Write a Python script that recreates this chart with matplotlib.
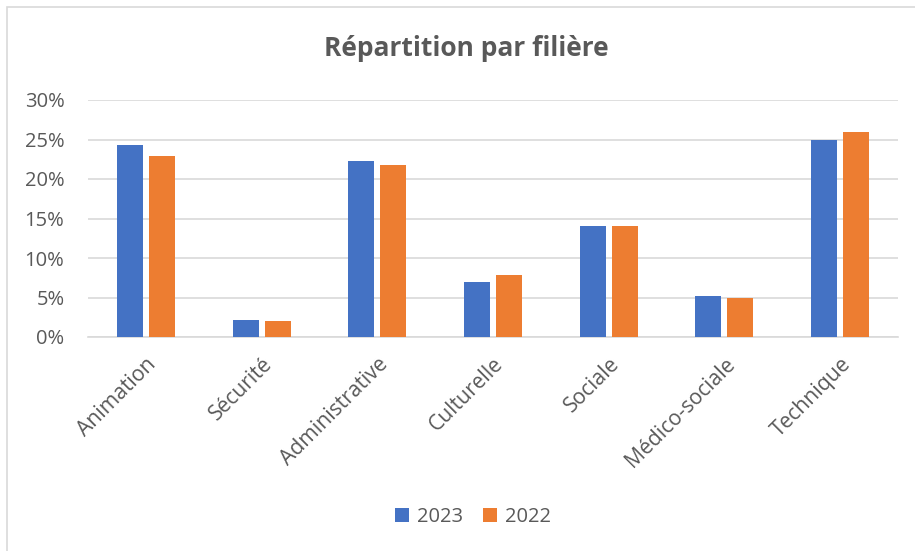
import numpy as np
import matplotlib.pyplot as plt
from matplotlib.patches import Rectangle
from matplotlib.ticker import PercentFormatter

# data (share of staff per branch)
filieres = ['Animation', 'Sécurité', 'Administrative', 'Culturelle',
            'Sociale', 'Médico-sociale', 'Technique']
part_2023 = [0.243, 0.022, 0.223, 0.069, 0.140, 0.052, 0.249]
part_2022 = [0.229, 0.020, 0.218, 0.079, 0.140, 0.050, 0.259]
annees = ['2023', '2022']

plt.rcParams['font.family'] = ['Open Sans', 'DejaVu Sans']
gris = '#595959'

fig = plt.figure(figsize=(9.15, 5.51), dpi=100)
ax = fig.add_axes([88/915, 1 - 337/551, 810/915, 237/551])

x = np.arange(len(filieres))
w = 0.225
ax.bar(x - 0.138, part_2023, w, color='#4472C4', label=annees[0], zorder=3)
ax.bar(x + 0.138, part_2022, w, color='#ED7D31', label=annees[1], zorder=3)

ax.set_xlim(-0.5, len(filieres) - 0.5)
ax.set_ylim(0, 0.30)
ax.set_yticks(np.arange(0, 0.31, 0.05))
ax.yaxis.set_major_formatter(PercentFormatter(1.0, decimals=0))
ax.grid(axis='y', color='#D9D9D9', linewidth=1.2, zorder=0)
ax.set_axisbelow(True)

for s in ['top', 'right', 'left']:
    ax.spines[s].set_visible(False)
ax.spines['bottom'].set_color('#D9D9D9')
ax.spines['bottom'].set_linewidth(1.2)

ax.set_xticks(x)
ax.set_xticklabels(filieres, rotation=45, ha='right', rotation_mode='anchor')
ax.tick_params(axis='x', length=0, pad=12, labelsize=15.2, labelcolor=gris)
ax.tick_params(axis='y', length=0, pad=17, labelsize=14.5, labelcolor=gris)

fig.text(466/915, 1 - 48/551, 'Répartition par filière', ha='center', va='center',
         fontsize=19, fontweight='bold', color=gris)

leg = fig.legend(loc='center', bbox_to_anchor=(473/915, 1 - 517/551), ncol=2,
                 frameon=False, fontsize=14.5, handlelength=0.7, handleheight=0.7,
                 handletextpad=0.4, columnspacing=1.0)
for t in leg.get_texts():
    t.set_color(gris)

# chart border (only left and top edges show in the crop)
fig.patches.append(Rectangle((7/915, -0.05), 1.1, 1 - 7/551 + 0.05,
                             transform=fig.transFigure, fill=False,
                             edgecolor='#D9D9D9', linewidth=1.2))

fig.savefig('out.png', dpi=100)
